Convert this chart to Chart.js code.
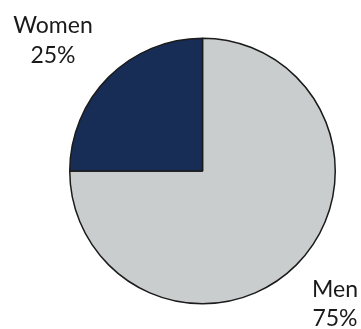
<!DOCTYPE html>
<html>
<head>
<meta charset="utf-8">
<script src="https://cdn.jsdelivr.net/npm/chart.js@4.4.1/dist/chart.umd.min.js"></script>
<style>
html,body{margin:0;padding:0;background:#fff;}
#wrap{width:361px;height:329px;position:relative;}
</style>
</head>
<body>
<div id="wrap"><canvas id="c" width="361" height="329"></canvas></div>
<script>
const categories = ['Men', 'Women'];
const shares = [75, 25];
const sliceColors = ['#c9cdce', '#172d55'];

const labelPlugin = {
  id: 'outerLabels',
  afterDraw(chart) {
    const ctx = chart.ctx;
    const pos = {
      'Women': {x: 53, y1: 33, y2: 63},
      'Men': {x: 335, y1: 297, y2: 326}
    };
    ctx.save();
    ctx.fillStyle = '#1a1a1a';
    ctx.font = '23px Lato, "Open Sans", sans-serif';
    ctx.textAlign = 'center';
    ctx.textBaseline = 'alphabetic';
    categories.forEach((c, i) => {
      const p = pos[c];
      ctx.fillText(c, p.x, p.y1);
      ctx.fillText(shares[i] + '%', p.x, p.y2);
    });
    ctx.restore();
  }
};

new Chart(document.getElementById('c'), {
  type: 'pie',
  data: {
    labels: categories,
    datasets: [{
      data: shares,
      backgroundColor: sliceColors,
      borderColor: '#1b1b1b',
      borderWidth: 1.5
    }]
  },
  options: {
    responsive: false,
    animation: false,
    layout: {padding: {left: 69, right: 25, top: 37, bottom: 24}},
    plugins: {legend: {display: false}, tooltip: {enabled: false}}
  },
  plugins: [labelPlugin]
});
</script>
</body>
</html>
